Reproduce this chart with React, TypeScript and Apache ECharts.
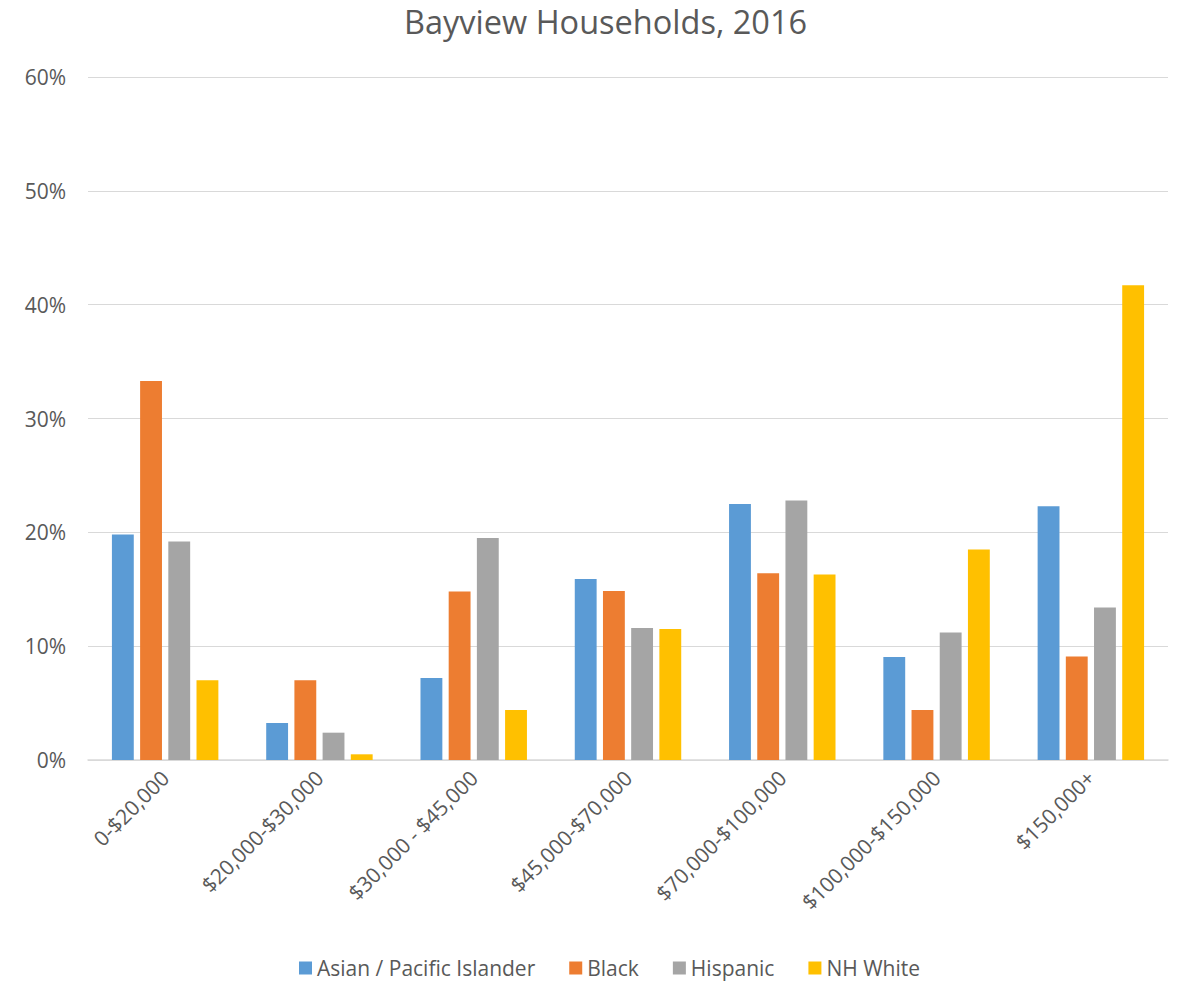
import React, { useEffect, useRef } from "react";
import * as echarts from "echarts";

const categories = [
  "0-$20,000",
  "$20,000-$30,000",
  "$30,000 - $45,000",
  "$45,000-$70,000",
  "$70,000-$100,000",
  "$100,000-$150,000",
  "$150,000+",
];
const seriesNames = ["Asian / Pacific Islander", "Black", "Hispanic", "NH White"];
const asian = [19.8, 3.25, 7.2, 15.9, 22.5, 9.05, 22.3];
const black = [33.3, 7.0, 14.8, 14.85, 16.4, 4.4, 9.1];
const hispanic = [19.2, 2.4, 19.5, 11.6, 22.8, 11.2, 13.4];
const nhWhite = [7.0, 0.5, 4.4, 11.5, 16.3, 18.5, 41.7];
const colors = ["#5b9bd5", "#ed7d31", "#a5a5a5", "#ffc000"];

const FONT = "'Open Sans', 'Noto Sans', sans-serif";

export default function App() {
  const ref = useRef<HTMLDivElement>(null);
  useEffect(() => {
    document.body.style.margin = "0";
    const chart = echarts.init(ref.current!, null, { renderer: "svg" });
    const data = [asian, black, hispanic, nhWhite];
    chart.setOption({
      animation: false,
      backgroundColor: "#ffffff",
      title: {
        text: "Bayview Households, 2016",
        left: 399,
        top: 0,
        textStyle: { fontFamily: FONT, fontSize: 32.5, fontWeight: "normal", color: "#595959" },
      },
      legend: {
        top: 956,
        left: 299,
        padding: 0,
        itemWidth: 13,
        itemHeight: 13,
        itemGap: 34,
        icon: "rect",
        textStyle: { fontFamily: FONT, fontSize: 21, lineHeight: 24, color: "#595959" },
        data: seriesNames,
      },
      grid: { left: 88, right: 10, top: 77, bottom: 222, containLabel: false },
      xAxis: {
        type: "category",
        data: categories,
        axisLine: { lineStyle: { color: "#d9d9d9", width: 1.5 } },
        axisTick: { show: false },
        axisLabel: {
          rotate: 45,
          interval: 0,
          margin: 14,
          fontFamily: FONT,
          fontSize: 21,
          color: "#595959",
        },
      },
      yAxis: {
        type: "value",
        min: 0,
        max: 60,
        interval: 10,
        axisLine: { show: false },
        axisTick: { show: false },
        splitLine: { lineStyle: { color: "#d9d9d9", width: 1.2 } },
        axisLabel: {
          formatter: "{value}%",
          margin: 22,
          fontFamily: FONT,
          fontSize: 21,
          color: "#595959",
        },
      },
      series: seriesNames.map((name, i) => ({
        name,
        type: "bar",
        data: data[i],
        itemStyle: { color: colors[i] },
        barGap: "29%",
        barCategoryGap: "31%",
      })),
    });
    return () => chart.dispose();
  }, []);
  return <div ref={ref} style={{ width: 1178, height: 982 }} />;
}
